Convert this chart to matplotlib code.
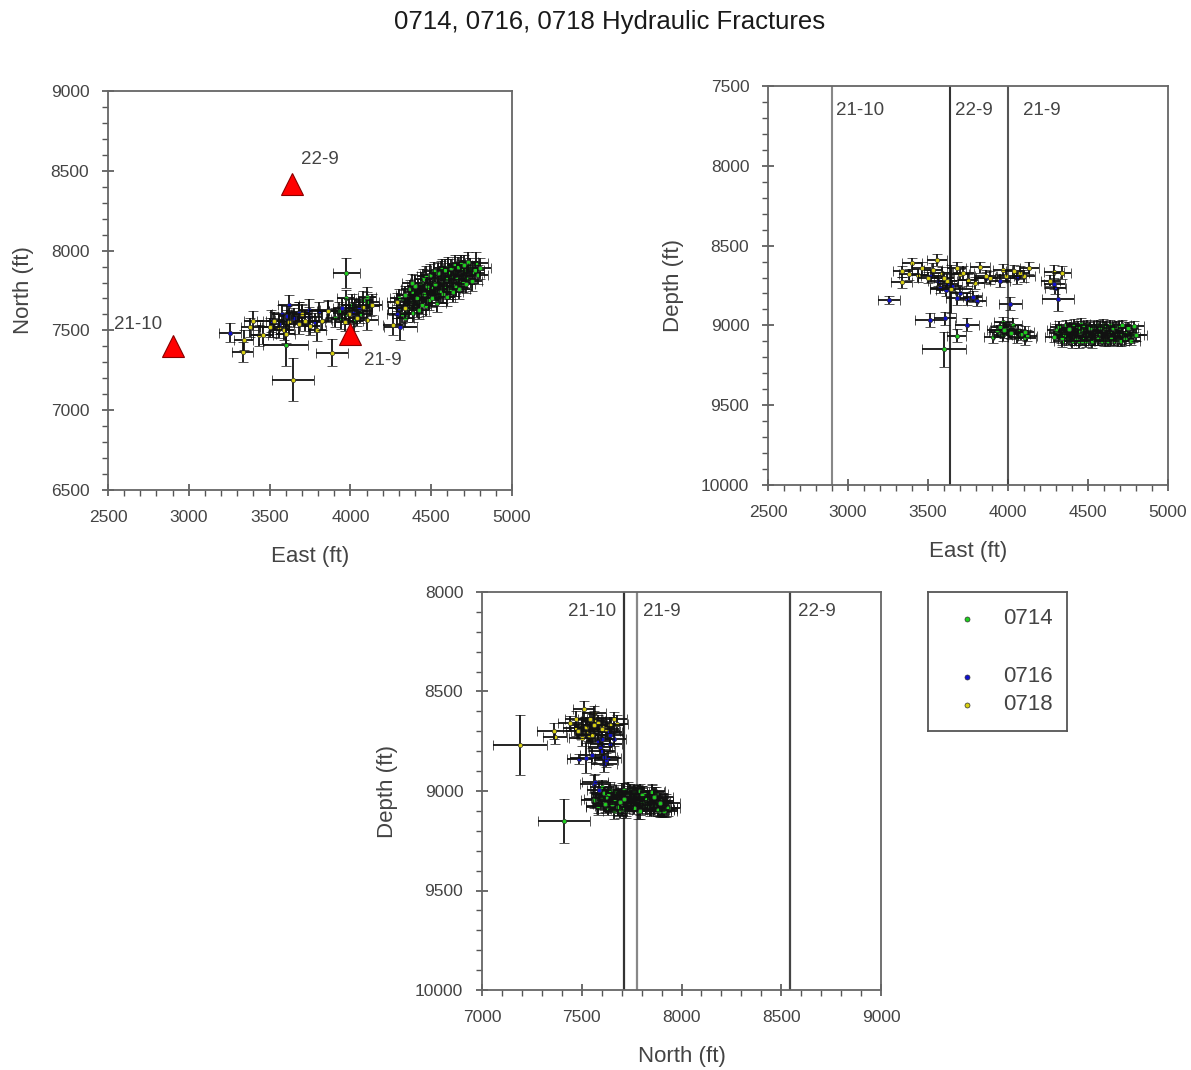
import matplotlib
matplotlib.use("Agg")
import matplotlib.pyplot as plt
from matplotlib.ticker import MultipleLocator

plt.rcParams['font.family'] = ['Liberation Sans', 'DejaVu Sans']

# ---------------- data ----------------
# Stage 0714 (green)
e_0714 = [4310, 4330, 4350, 4360, 4380, 4390, 4400, 4410, 4420, 4430, 4440, 4450, 4460, 4470, 4480,
          4490, 4500, 4510, 4520, 4530, 4540, 4550, 4560, 4570, 4580, 4590, 4600, 4610, 4620, 4630,
          4640, 4650, 4660, 4670, 4680, 4690, 4700, 4710, 4720, 4740, 4760, 4780, 4420, 4470, 4540,
          4600, 4350, 4450, 4560, 4300,
          4320, 4340, 4360, 4370, 4390, 4400, 4415, 4425, 4435, 4445, 4455, 4465, 4475, 4485, 4495,
          4505, 4515, 4525, 4535, 4545, 4555, 4565, 4575, 4585, 4595, 4605, 4615, 4625, 4635, 4645,
          4655, 4665, 4675, 4685, 4695, 4705, 4715, 4730, 4750, 4770, 4790, 4340, 4380, 4800, 4290,
          3970, 4030, 3905, 4010, 4055, 4105, 3970, 3940, 3990, 4060, 4120, 3950, 4080, 4020, 3930,
          3600, 3975, 3680, 4105]
n_0714 = [7640, 7690, 7660, 7720, 7680, 7740, 7700, 7650, 7760, 7720, 7690, 7780, 7740, 7700, 7760,
          7800, 7730, 7770, 7820, 7750, 7790, 7830, 7760, 7800, 7840, 7780, 7820, 7860, 7800, 7840,
          7780, 7870, 7820, 7850, 7800, 7880, 7840, 7870, 7820, 7890, 7860, 7920, 7680, 7650, 7720,
          7750, 7610, 7820, 7880, 7700,
          7600, 7720, 7640, 7760, 7610, 7780, 7700, 7630, 7800, 7660, 7730, 7840, 7780, 7690, 7850,
          7700, 7870, 7790, 7670, 7860, 7740, 7890, 7730, 7880, 7710, 7900, 7760, 7890, 7740, 7910,
          7770, 7900, 7760, 7920, 7800, 7910, 7790, 7930, 7810, 7880, 7850, 7580, 7800, 7890, 7640,
          7600, 7640, 7580, 7660, 7620, 7680, 7700, 7570, 7630, 7600, 7650, 7610, 7690, 7560, 7620,
          7410, 7860, 7615, 7710]
d_0714 = [9050, 9070, 9040, 9060, 9080, 9030, 9055, 9065, 9045, 9075, 9035, 9060, 9050, 9085, 9040,
          9065, 9055, 9030, 9070, 9050, 9080, 9045, 9060, 9035, 9070, 9055, 9065, 9040, 9075, 9050,
          9060, 9045, 9070, 9035, 9060, 9055, 9075, 9045, 9065, 9050, 9070, 9060, 9090, 9020, 9090,
          9020, 9060, 9040, 9060, 9030,
          9010, 9095, 9000, 9085, 9015, 9100, 8995, 9090, 9010, 9100, 8990, 9095, 9005, 9095, 9000,
          9090, 9015, 9100, 9005, 9090, 9000, 9085, 9010, 9095, 8995, 9090, 9010, 9100, 9000, 9085,
          9015, 9095, 9005, 9090, 9010, 9100, 9000, 9085, 9015, 9095, 9005, 9080, 9020, 9060, 9070,
          8980, 8995, 9075, 9050, 9075, 9080, 9060, 9040, 9020, 9035, 9065, 9010, 9055, 9045, 9030,
          9150, 9030, 9065, 9040]
ee_0714 = [55, 60, 50, 65, 55, 60, 50, 55, 65, 60, 55, 50, 60, 55, 65,
           60, 55, 50, 60, 65, 55, 60, 50, 55, 60, 65, 55, 60, 50, 55,
           60, 65, 55, 50, 60, 55, 65, 60, 55, 60, 65, 70, 55, 60, 50,
           55, 60, 55, 60, 55,
           60, 55, 65, 55, 60, 50, 55, 60, 65, 55, 60, 50, 55, 60, 65,
           55, 60, 50, 55, 60, 65, 55, 60, 50, 55, 60, 65, 55, 60, 50,
           55, 60, 65, 55, 60, 50, 55, 60, 65, 55, 60, 55, 60, 70, 60,
           55, 60, 55, 60, 55, 70, 55, 60, 55, 65, 60, 55, 60, 55, 60,
           140, 85, 60, 55]
en_0714 = [60, 65, 55, 60, 65, 55, 60, 65, 60, 55, 65, 60, 55, 60, 65,
           60, 55, 65, 60, 55, 60, 65, 55, 60, 65, 55, 60, 65, 55, 60,
           65, 55, 60, 65, 55, 60, 65, 55, 60, 65, 60, 70, 55, 60, 65,
           55, 60, 65, 55, 60,
           55, 60, 65, 55, 60, 65, 55, 60, 65, 55, 60, 65, 55, 60, 65,
           55, 60, 65, 55, 60, 65, 55, 60, 65, 55, 60, 65, 55, 60, 65,
           55, 60, 65, 55, 60, 65, 55, 60, 65, 55, 60, 60, 55, 65, 60,
           60, 55, 60, 65, 55, 60, 55, 60, 65, 55, 60, 55, 60, 65, 55,
           130, 95, 60, 60]
ed_0714 = [35, 40, 30, 35, 40, 35, 30, 35, 40, 35, 30, 35, 40, 35, 30,
           35, 40, 35, 30, 35, 40, 35, 30, 35, 40, 35, 30, 35, 40, 35,
           30, 35, 40, 35, 30, 35, 40, 35, 30, 35, 40, 45, 35, 30, 35,
           40, 35, 30, 35, 40,
           35, 40, 35, 30, 35, 40, 35, 30, 35, 40, 35, 30, 35, 40, 35,
           30, 35, 40, 35, 30, 35, 40, 35, 30, 35, 40, 35, 30, 35, 40,
           35, 30, 35, 40, 35, 30, 35, 40, 35, 30, 35, 40, 35, 40, 35,
           35, 40, 35, 30, 35, 40, 35, 30, 35, 40, 35, 30, 35, 40, 35,
           110, 50, 40, 35]

# Stage 0716 (blue)
e_0716 = [3255, 3510, 3605, 3745, 3575, 3745, 3805, 4015, 4055, 4295, 4310, 3860, 3650, 3700, 3560, 3620,
          3610, 3680, 3780, 4290, 3950, 3520]
n_0716 = [7485, 7560, 7565, 7585, 7600, 7630, 7620, 7610, 7640, 7640, 7520, 7630, 7580, 7600, 7540, 7660,
          7590, 7610, 7550, 7600, 7640, 7520]
d_0716 = [8840, 8965, 8955, 8995, 8765, 8835, 8845, 8865, 8705, 8765, 8835, 8700, 8750, 8800, 8720, 8740,
          8780, 8830, 8820, 8740, 8720, 8690]
ee_0716 = [70, 90, 70, 75, 60, 65, 60, 70, 60, 65, 100, 60, 65, 60, 60, 65,
           60, 65, 60, 65, 60, 65]
en_0716 = [60, 70, 65, 60, 60, 65, 60, 65, 60, 60, 80, 60, 60, 65, 60, 60,
           60, 65, 60, 60, 65, 60]
ed_0716 = [25, 45, 40, 40, 35, 35, 35, 40, 35, 40, 75, 35, 35, 40, 35, 35,
           35, 40, 35, 35, 40, 35]

# Stage 0718 (yellow)
e_0718 = [3400, 3437, 3335, 3556, 3587, 3645, 3750, 3794, 3825, 3886, 3967, 4078, 4134, 4103, 4288,
          4264, 4338, 3500, 3460, 3700, 3620,
          3380, 3530, 3680, 3860, 3990, 4040, 3600, 3720, 3340]
n_0718 = [7560, 7470, 7365, 7510, 7500, 7190, 7530, 7500, 7560, 7360, 7553, 7647, 7660, 7565, 7678,
          7534, 7640, 7520, 7470, 7600, 7550,
          7520, 7560, 7540, 7620, 7600, 7580, 7480, 7560, 7440]
d_0718 = [8610, 8685, 8730, 8590, 8670, 8770, 8715, 8735, 8635, 8700, 8650, 8670, 8640, 8690, 8665,
          8720, 8670, 8700, 8640, 8680, 8720,
          8680, 8650, 8640, 8690, 8690, 8660, 8700, 8670, 8660]
ee_0718 = [60, 55, 65, 60, 65, 130, 60, 55, 60, 100, 60, 55, 60, 65, 60, 60, 55, 60, 60, 55, 60,
           60, 55, 60, 65, 60, 55, 60, 65, 60]
en_0718 = [60, 65, 60, 55, 60, 135, 60, 65, 60, 85, 55, 60, 65, 60, 55, 60, 65, 60, 55, 60, 65,
           60, 55, 60, 65, 60, 55, 60, 65, 60]
ed_0718 = [35, 40, 35, 40, 35, 150, 35, 40, 35, 40, 35, 40, 35, 40, 45, 35, 40, 35, 40, 35, 40,
           35, 40, 35, 40, 35, 40, 35, 40, 35]

stages = ['0714', '0716', '0718']
stage_colors = ['#1ed01e', '#1010d0', '#d8d010']

# Wells
well_names = ['21-10', '22-9', '21-9']
well_east = [2900, 3640, 4000]
well_north = [7400, 8420, 7480]
# wells as drawn in North-Depth panel
well_north_section = [7712, 8544, 7777]

# ---------------- figure ----------------
W, H = 1191, 1070
fig = plt.figure(figsize=(W / 100, H / 100), dpi=100)


def ax_at(l, t, r, b):
    return fig.add_axes([l / W, 1 - b / H, (r - l) / W, (b - t) / H])


ax1 = ax_at(108, 91, 512, 490)
ax2 = ax_at(768, 86, 1168, 485)
ax3 = ax_at(482, 592, 881, 990)

TXT = '#444444'
SPINE = '#666666'
LAB_FS = 16


def style(ax):
    for s in ax.spines.values():
        s.set_color(SPINE)
        s.set_linewidth(1.3)
        s.set_zorder(2000)
    ax.xaxis.set_major_locator(MultipleLocator(500))
    ax.yaxis.set_major_locator(MultipleLocator(500))
    ax.xaxis.set_minor_locator(MultipleLocator(100))
    ax.yaxis.set_minor_locator(MultipleLocator(100))
    ax.tick_params(which='major', direction='inout', length=9, width=1.1, color='#444444',
                   labelsize=12.5, labelcolor=TXT)
    ax.tick_params(axis='x', which='major', pad=10)
    ax.tick_params(axis='y', which='major', pad=9)
    ax.tick_params(which='minor', direction='out', length=4, width=1, color='#555555')


data = [
    (e_0714, n_0714, d_0714, ee_0714, en_0714, ed_0714),
    (e_0716, n_0716, d_0716, ee_0716, en_0716, ed_0716),
    (e_0718, n_0718, d_0718, ee_0718, en_0718, ed_0718),
]

EB = dict(fmt='o', ecolor='#111111', elinewidth=1.3, capsize=3.5, capthick=1.3,
          ms=3.1, mec='#333333', mew=0.5)


def panel(ax, xi, yi, exi, eyi):
    # each event drawn in turn (bars + marker), so later events overlap earlier ones
    z = 2.0
    for vals, c in zip(data, stage_colors):
        for k in range(len(vals[0])):
            ax.errorbar([vals[xi][k]], [vals[yi][k]], xerr=[vals[exi][k]], yerr=[vals[eyi][k]],
                        mfc=c, zorder=z, **EB)
            z += 0.5


# Panel 1: East vs North
panel(ax1, 0, 1, 3, 4)
ax1.plot(well_east, well_north, ls='none', marker='^', ms=16, mfc='#ff0000', mec='#880000',
         mew=0.8, zorder=1000)
lab_off = {'21-10': (-11, 22, 'right'), '22-9': (9, 24, 'left'), '21-9': (14, -27, 'left')}
for name, x, y in zip(well_names, well_east, well_north):
    dx, dy, ha = lab_off[name]
    ax1.annotate(name, (x, y), xytext=(dx * 0.72, dy * 0.72), textcoords='offset points',
                 ha=ha, va='center', fontsize=13.5, color=TXT, zorder=1001)
ax1.set_xlim(2500, 5000)
ax1.set_ylim(6500, 9000)
style(ax1)
ax1.set_xlabel('East (ft)', fontsize=LAB_FS, color=TXT, labelpad=15)
ax1.set_ylabel('North (ft)', fontsize=LAB_FS, color=TXT, labelpad=12)

# Panel 2: East vs Depth
panel(ax2, 0, 2, 3, 5)
line_col2 = {'21-10': '#888888', '22-9': '#333333', '21-9': '#555555'}
txt_off2 = {'21-10': 4, '22-9': 5, '21-9': 15}
for name, x in zip(well_names, well_east):
    ax2.axvline(x, color=line_col2[name], lw=1.5, zorder=1)
    ax2.annotate(name, (x, 1 - 24 / 399), xycoords=ax2.get_xaxis_transform(),
                 xytext=(txt_off2[name] * 0.72, 0), textcoords='offset points',
                 ha='left', va='center', fontsize=13.5, color=TXT)
ax2.set_xlim(2500, 5000)
ax2.set_ylim(10000, 7500)
style(ax2)
ax2.set_xlabel('East (ft)', fontsize=LAB_FS, color=TXT, labelpad=15)
ax2.set_ylabel('Depth (ft)', fontsize=LAB_FS, color=TXT, labelpad=12)

# Panel 3: North vs Depth
panel(ax3, 1, 2, 4, 5)
line_col3 = {'21-10': '#333333', '22-9': '#444444', '21-9': '#888888'}
txt_off3 = {'21-10': (-8, 'right'), '22-9': (8, 'left'), '21-9': (6, 'left')}
for name, x in zip(well_names, well_north_section):
    ax3.axvline(x, color=line_col3[name], lw=1.6, zorder=1)
    dx, ha = txt_off3[name]
    ax3.annotate(name, (x, 1 - 20 / 398), xycoords=ax3.get_xaxis_transform(),
                 xytext=(dx * 0.72, 0), textcoords='offset points',
                 ha=ha, va='center', fontsize=13.5, color=TXT)
ax3.set_xlim(7000, 9000)
ax3.set_ylim(10000, 8000)
style(ax3)
ax3.set_xlabel('North (ft)', fontsize=LAB_FS, color=TXT, labelpad=15)
ax3.set_ylabel('Depth (ft)', fontsize=LAB_FS, color=TXT, labelpad=12)

# Legend box
lax = ax_at(928, 592, 1067, 731)
lax.set_xlim(0, 139)
lax.set_ylim(139, 0)
lax.set_xticks([])
lax.set_yticks([])
for s in lax.spines.values():
    s.set_color('#555555')
    s.set_linewidth(1.3)
leg_rows = [27, 85, 113]
for st, c, yy in zip(stages, stage_colors, leg_rows):
    lax.plot([39], [yy], marker='o', ls='none', ms=3.6, mec='#333333', mew=0.5, mfc=c)
    lax.text(75, yy, st, fontsize=16, color=TXT, va='center', ha='left')

fig.text(610 / W, 1 - 22 / H, '0714, 0716, 0718 Hydraulic Fractures', ha='center', va='center',
         fontsize=18.5, color='#1a1a1a')

fig.savefig('out.png', dpi=100)
